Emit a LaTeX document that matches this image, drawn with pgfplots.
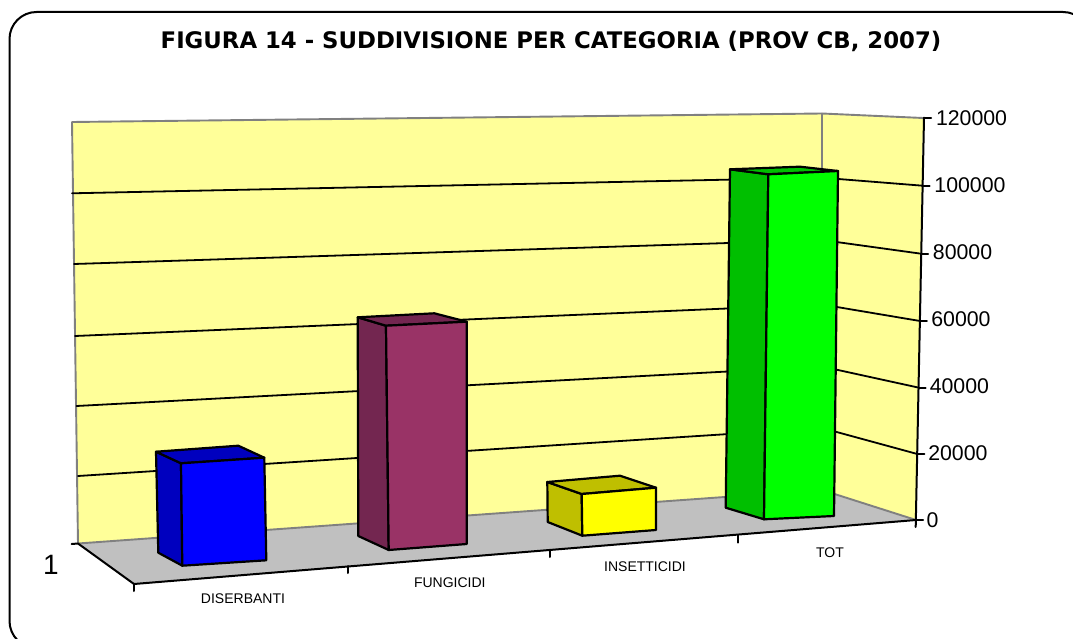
\documentclass[border=0pt]{standalone}
\usepackage{fontspec}
\setmainfont{Liberation Sans}
\newfontfamily\titlefont{DejaVu Sans}
\usepackage{pgfplots}
\pgfplotsset{compat=1.18}
\definecolor{wall}{HTML}{FFFF99}
\definecolor{floorc}{HTML}{C0C0C0}
\definecolor{wl}{HTML}{808080}
\definecolor{bluef}{HTML}{0000FF}
\definecolor{blues}{HTML}{0000BF}
\definecolor{marf}{HTML}{993366}
\definecolor{mars}{HTML}{732650}
\definecolor{yelf}{HTML}{FFFF00}
\definecolor{yels}{HTML}{BFBF00}
\definecolor{grnf}{HTML}{00FF00}
\definecolor{grns}{HTML}{00BF00}
\begin{document}
\begin{tikzpicture}[x=1pt,y=1pt]
\useasboundingbox (0,0) rectangle (1073,639);
\begin{axis}[at={(0,0)},anchor=south west,width=1073pt,height=639pt,scale only axis,
  xmin=0,xmax=1073,ymin=0,ymax=639,y dir=reverse,axis lines=none,clip=true,
  every axis plot/.append style={no markers,forget plot,line join=round,line cap=round}]
% outer chart frame
\draw[line width=2pt,rounded corners=27pt] (axis cs:9.5,12) rectangle (axis cs:1090,648);
% walls and floor
\addplot[fill=wall,draw=none] coordinates {(72,122)(822,113.5)(822,490)(78,543.5)} -- cycle;
\addplot[fill=wall,draw=none] coordinates {(822,113.5)(923,118)(916,520)(822,490)} -- cycle;
\addplot[fill=floorc,draw=none] coordinates {(78,543.5)(822,490)(916,520)(134,584)} -- cycle;
\addplot[draw=wl,line width=1.9pt] coordinates {(78,543.5)(72,122)(822,113.5)(923,118)};
\addplot[draw=wl,line width=1.9pt] coordinates {(822,113.5)(822,490)};
\addplot[draw=wl,line width=1.9pt] coordinates {(78,543.5)(822,490)(916,520)};
% gridlines: 20000 ... 100000
\addplot[black,line width=1.8pt] coordinates {(78,476)(822,428)(917.3,454)};
\addplot[black,line width=1.8pt] coordinates {(76.5,406)(822,366.5)(918.5,387.6)};
\addplot[black,line width=1.8pt] coordinates {(75,336)(822,304.5)(920,321)};
\addplot[black,line width=1.8pt] coordinates {(74,264)(822,240)(921,253.7)};
\addplot[black,line width=1.8pt] coordinates {(72,193.3)(822,177.7)(922.5,185.7)};
% axis edges and tick marks
\addplot[black,line width=2pt] coordinates {(71.7,544)(78,543.5)(134,584)(916,520)};
\addplot[black,line width=2pt] coordinates {(134.3,584)(134.3,591)};
\addplot[black,line width=2pt] coordinates {(348.3,566)(348.3,573)};
\addplot[black,line width=2pt] coordinates {(550,550)(550,557)};
\addplot[black,line width=2pt] coordinates {(738.3,535)(738.3,542.7)};
\addplot[black,line width=2pt] coordinates {(924,117.7)(915.7,527)};
\addplot[black,line width=2pt] coordinates {(924,117.7)(931,117.7)};
\addplot[black,line width=2pt] coordinates {(922.6,185.7)(929.5,185.7)};
\addplot[black,line width=2pt] coordinates {(921.2,253.7)(928.2,253.7)};
\addplot[black,line width=2pt] coordinates {(919.9,321)(926.9,321)};
\addplot[black,line width=2pt] coordinates {(918.5,387.6)(925.5,387.6)};
\addplot[black,line width=2pt] coordinates {(917.3,454)(924.3,454)};
\addplot[black,line width=2pt] coordinates {(916,520)(923,520)};
% DISERBANTI (about 29000)
\addplot[fill=blues,draw=black,line width=2.2pt] coordinates {(156,451.7)(181,463.3)(182.3,565.7)(158.3,552.7)} -- cycle;
\addplot[fill=blues,draw=black,line width=2.2pt] coordinates {(156,451.7)(238.3,445.7)(264.3,457.7)(181,463.3)} -- cycle;
\addplot[fill=bluef,draw=black,line width=2.2pt] coordinates {(181,463.3)(264.3,457.7)(266.3,560.3)(182.3,565.7)} -- cycle;
% FUNGICIDI (about 66000)
\addplot[fill=mars,draw=black,line width=2.2pt] coordinates {(357.7,317.3)(386,325.7)(388.7,550)(358.3,536)} -- cycle;
\addplot[fill=mars,draw=black,line width=2.2pt] coordinates {(357.7,317.3)(434.3,313.3)(466.7,321.7)(386,325.7)} -- cycle;
\addplot[fill=marf,draw=black,line width=2.2pt] coordinates {(386,325.7)(466.7,321.7)(466.7,544)(388.7,550)} -- cycle;
% INSETTICIDI (about 12600)
\addplot[fill=yels,draw=black,line width=2.2pt] coordinates {(547.3,482)(581.7,494)(582.3,535.7)(547.7,522)} -- cycle;
\addplot[fill=yels,draw=black,line width=2.2pt] coordinates {(547.3,482)(620,475.7)(656,487.7)(581.7,494)} -- cycle;
\addplot[fill=yelf,draw=black,line width=2.2pt] coordinates {(581.7,494)(656,487.7)(656,530)(582.3,535.7)} -- cycle;
% TOT (about 107600)
\addplot[fill=grns,draw=black,line width=2.2pt] coordinates {(730,169.3)(768.3,174.3)(764,519.3)(725.7,507.7)} -- cycle;
\addplot[fill=grns,draw=black,line width=2.2pt] coordinates {(730,169.3)(800,166.7)(838,171)(768.3,174.3)} -- cycle;
\addplot[fill=grnf,draw=black,line width=2.2pt] coordinates {(768.3,174.3)(838,171)(834,516)(764,519.3)} -- cycle;
% texts
\node[font=\titlefont\bfseries\fontsize{22.8}{25}\selectfont,anchor=center] at (axis cs:551,41) {FIGURA 14 - SUDDIVISIONE PER CATEGORIA (PROV CB, 2007)};
\node[font=\fontsize{28}{30}\selectfont] at (axis cs:51,565) {1};
\node[font=\fontsize{14}{16}\selectfont] at (axis cs:243,598.3) {DISERBANTI};
\node[font=\fontsize{14}{16}\selectfont] at (axis cs:449.8,582.3) {FUNGICIDI};
\node[font=\fontsize{14}{16}\selectfont] at (axis cs:645,566.7) {INSETTICIDI};
\node[font=\fontsize{14}{16}\selectfont] at (axis cs:830,552.3) {TOT};
\end{axis}
\begin{axis}[at={(916pt,119pt)},anchor=south west,width=1pt,height=402.3pt,scale only axis,
  xmin=0,xmax=1,ymin=0,ymax=120000,axis x line=none,axis y line=right,
  axis line style={draw=none},major tick length=0pt,
  ytick={0,20000,40000,60000,80000,100000,120000},scaled y ticks=false,
  yticklabel style={anchor=west,inner sep=0pt,xshift=9.5pt,font=\fontsize{21.3}{24}\selectfont},
  yticklabels={0,\hspace*{1.55pt}20000,\hspace*{3.1pt}40000,\hspace*{4.65pt}60000,\hspace*{6.2pt}80000,\hspace*{7.75pt}100000,\hspace*{9.3pt}120000}]
\end{axis}
\end{tikzpicture}
\end{document}
